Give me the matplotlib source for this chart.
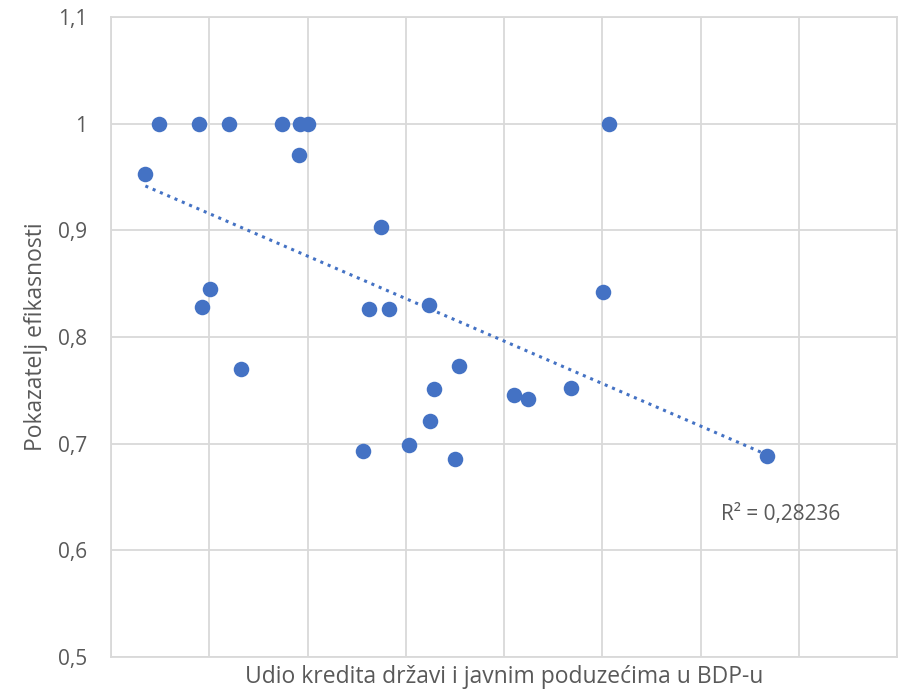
import numpy as np
import matplotlib.pyplot as plt

# udio kredita (no x tick labels in the original, units are arbitrary grid steps)
udio_kredita = [0.35, 0.49, 0.90, 1.20, 1.74, 1.92, 2.00, 1.91, 5.07, 2.75,
                1.01, 0.93, 2.63, 2.83, 3.24, 5.01, 1.32, 3.54, 3.29, 4.10,
                4.24, 4.68, 3.25, 2.56, 3.03, 3.50, 6.68]
efikasnost = [0.953, 1.0, 1.0, 1.0, 1.0, 1.0, 1.0, 0.971, 1.0, 0.903,
              0.845, 0.828, 0.826, 0.826, 0.830, 0.842, 0.770, 0.773, 0.751, 0.746,
              0.742, 0.752, 0.721, 0.693, 0.699, 0.686, 0.688]
y_ticks = [0.5, 0.6, 0.7, 0.8, 0.9, 1.0, 1.1]
y_tick_labels = ['0,5', '0,6', '0,7', '0,8', '0,9', '1', '1,1']
r2_text = 'R² = 0,28236'

plt.rcParams['font.family'] = ['Open Sans', 'DejaVu Sans']
blue = '#4472C4'
grey = '#D9D9D9'
text_grey = '#595959'

fig = plt.figure(figsize=(8.98, 6.9), dpi=100)
ax = fig.add_axes([111/898, 1 - 657/690, (897 - 111)/898, (657 - 17)/690])

x = np.array(udio_kredita)
y = np.array(efikasnost)
ax.scatter(x, y, s=125, color=blue, zorder=3, linewidths=0)

# linear trend line, dotted, from min x to max x
k, n = np.polyfit(x, y, 1)
xs = np.array([x.min(), x.max()])
ax.plot(xs, k*xs + n, color=blue, linestyle=(0, (1, 1.6)), linewidth=2.2, zorder=2)
ax.text(6.21, 0.634, r2_text, fontsize=15, color=text_grey, va='center')

ax.set_xlim(0, 8)
ax.set_ylim(0.5, 1.1)
ax.set_xticks(np.arange(0, 9, 1))
ax.set_xticklabels([])
ax.set_yticks(y_ticks)
ax.set_yticklabels(y_tick_labels, fontsize=15, color=text_grey)
ax.tick_params(axis='y', length=0, pad=17)
ax.tick_params(axis='x', length=0)
ax.grid(True, color=grey, linewidth=1.3)
ax.set_axisbelow(True)
for s in ax.spines.values():
    s.set_color(grey)
    s.set_linewidth(1.3)

ax.set_xlabel('Udio kredita državi i javnim poduzećima u BDP-u', fontsize=16.5, color=text_grey)
ax.xaxis.set_label_coords(0.5, -0.012)
ax.set_ylabel('Pokazatelj efikasnosti', fontsize=16.5, color=text_grey)
ax.yaxis.set_label_coords(-0.08, 0.5)

fig.savefig('out.png', dpi=100)
